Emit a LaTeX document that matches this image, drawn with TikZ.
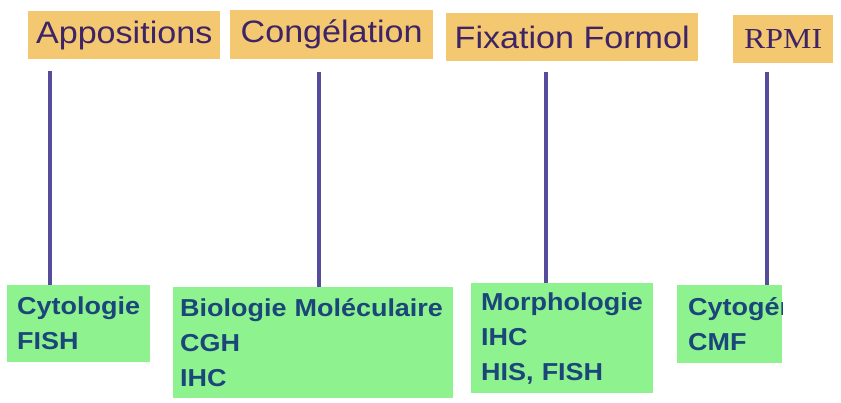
\documentclass[tikz,border=0pt]{standalone}
\usepackage{fontspec}
\newfontfamily\methodfont{Liberation Sans}[FakeStretch=1.1]
\newfontfamily\rpmifont{Liberation Serif}[FakeStretch=1.1]
\newfontfamily\usagefont{Liberation Sans}[FakeStretch=1.1]
\hyphenpenalty=10000
\definecolor{boxorange}{RGB}{244,200,112}
\definecolor{boxgreen}{RGB}{142,242,142}
\definecolor{methodtext}{RGB}{62,36,102}
\definecolor{usagetext}{RGB}{26,70,122}
\definecolor{linkcolor}{RGB}{86,76,156}
\tikzset{
  method/.style = {shape=rectangle, fill=boxorange, inner sep=0pt,
                   anchor=north west, text=methodtext,
                   font=\methodfont\fontsize{31}{35}\selectfont},
  usage/.style  = {shape=rectangle, fill=boxgreen, inner xsep=11pt,
                   inner ysep=0pt, anchor=north west, align=left,
                   text=usagetext,
                   font=\usagefont\bfseries\fontsize{24.5}{35}\selectfont},
  link/.style   = {draw=linkcolor, line width=3.5pt}
}

\begin{document}
\begin{tikzpicture}[x=1pt, y=-1pt]
  \useasboundingbox[fill=white] (0,0) rectangle (841,403);

  % preparations
  \node [method, minimum width=192pt, minimum height=48pt] (appo) at (28,11) {Appositions};
  \node [method, minimum width=203pt, minimum height=49pt] (cong) at (230,10) {Congélation};
  \node [method, minimum width=252pt, minimum height=48pt] (fix) at (446,13) {Fixation Formol};
  \node [method, minimum width=100pt, minimum height=48pt,
         font=\rpmifont\fontsize{29}{35}\selectfont] (rpmi) at (733,15) {RPMI};

  % techniques
  \node [usage, text width=123pt, inner xsep=10pt, minimum height=77pt] (cytol) at (7,285) {Cytologie\\FISH};
  \node [usage, text width=266pt, inner xsep=7pt, minimum height=111pt] (biol) at (173,287)
        {\mbox{Biologie Moléculaire}\\CGH\\IHC};
  \node [usage, text width=162pt, inner xsep=10pt, minimum height=110pt] (morph) at (471,283)
        {Morphologie\\IHC\\HIS, FISH};
  \begin{scope}
    \clip (677,285) rectangle (782,363);
    \node [usage, text width=83pt, minimum height=78pt] (cyto) at (677,285)
          {\mbox{Cytogénétique}\\CMF};
  \end{scope}

  \draw [link] ([xshift=22pt, yshift=-12pt]appo.south west) -- ([xshift=43pt]cytol.north west);
  \draw [link] ([xshift=89pt, yshift=-13pt]cong.south west) -- ([xshift=146pt]biol.north west);
  \draw [link] ([xshift=100pt, yshift=-11pt]fix.south west) -- ([xshift=75pt]morph.north west);
  \draw [link] ([xshift=34pt, yshift=-9pt]rpmi.south west) -- ([xshift=90pt]cyto.north west);
\end{tikzpicture}
\end{document}
